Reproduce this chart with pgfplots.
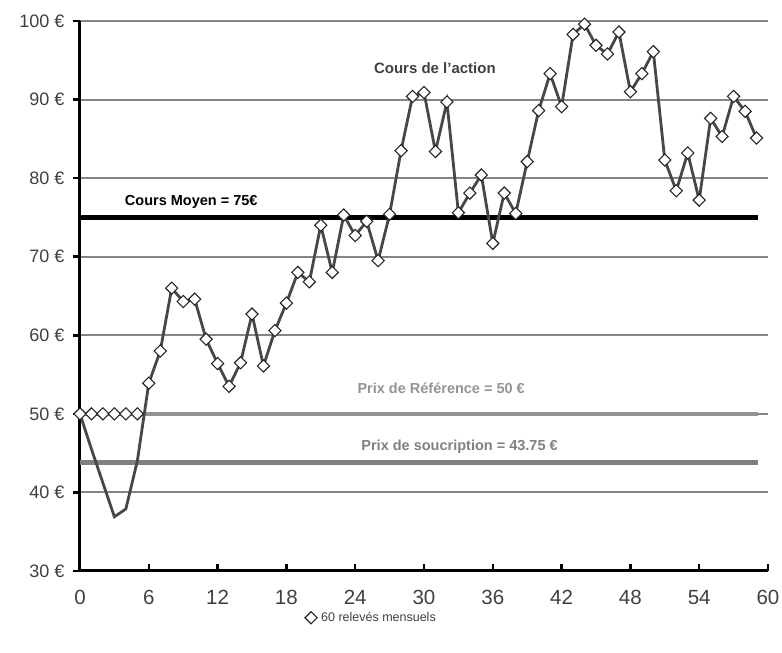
\documentclass[border=0pt]{standalone}
\usepackage{pgfplots}
\pgfplotsset{compat=1.18}
\usepackage{fontspec}
\setmainfont{Liberation Sans}

\definecolor{gridgray}{gray}{0.52}
\definecolor{refgray}{gray}{0.58}
\definecolor{subgray}{gray}{0.50}
\definecolor{linegray}{gray}{0.28}
\definecolor{labgray}{gray}{0.25}

\begin{document}
\begin{tikzpicture}
\path[use as bounding box] (-80pt,-82pt) rectangle (702pt,571pt);
\begin{axis}[
  at={(0pt,0pt)}, anchor=south west,
  scale only axis, width=688pt, height=550pt,
  xmin=0, xmax=60, ymin=30, ymax=100,
  xtick={0,6,...,60}, ytick={30,40,...,100},
  axis x line*=bottom, axis y line*=left,
  axis line style={black, line width=3pt},
  xtick align=inside, ytick align=outside,
  major tick length=7pt,
  tick style={black, line width=2.5pt},
  ymajorgrids, grid style={gridgray, line width=2pt},
  /pgf/number format/assume math mode=true,
  yticklabel={\pgfmathprintnumber{\tick} €},
  xticklabel style={font=\fontsize{20.5}{23}\selectfont, text=labgray, yshift=-16pt},
  yticklabel style={font=\fontsize{18}{21}\selectfont, text=labgray, xshift=-5pt},
  legend style={at={(0.425,-0.085)}, anchor=center, draw=none, fill=none,
    font=\fontsize{12.5}{14}\selectfont, text=labgray,
    nodes={inner xsep=4pt}},
  legend cell align=left,
  clip=false,
]
% lignes de reference
\addplot[forget plot, black, line width=5pt] coordinates {(0,75) (59.1,75)};
\addplot[forget plot, refgray, line width=4.5pt] coordinates {(0,50) (59.1,50)};
\addplot[forget plot, subgray, line width=5pt] coordinates {(0,43.75) (59.1,43.75)};

% cours de l'action
\addplot[forget plot, linegray, line width=2.8pt, no marks] table {
x y
0 50
1 45.5
2 41.2
3 36.9
4 37.9
5 44
6 53.9
7 58.0
8 66.0
9 64.3
10 64.6
11 59.5
12 56.4
13 53.5
14 56.5
15 62.7
16 56.1
17 60.6
18 64.1
19 68.0
20 66.8
21 74.0
22 68.0
23 75.3
24 72.7
25 74.5
26 69.5
27 75.4
28 83.5
29 90.4
30 90.9
31 83.4
32 89.7
33 75.6
34 78.1
35 80.4
36 71.7
37 78.1
38 75.5
39 82.1
40 88.6
41 93.3
42 89.1
43 98.3
44 99.6
45 96.9
46 95.8
47 98.6
48 91.0
49 93.3
50 96.1
51 82.3
52 78.4
53 83.2
54 77.2
55 87.6
56 85.3
57 90.4
58 88.5
59 85.1
};

% releves mensuels
\addplot[only marks, mark=square*, mark size=4.3pt,
  mark options={rotate=45, fill=white, draw=black!85, line width=1.1pt}] table {
x y
0 50
1 50
2 50
3 50
4 50
5 50
6 53.9
7 58.0
8 66.0
9 64.3
10 64.6
11 59.5
12 56.4
13 53.5
14 56.5
15 62.7
16 56.1
17 60.6
18 64.1
19 68.0
20 66.8
21 74.0
22 68.0
23 75.3
24 72.7
25 74.5
26 69.5
27 75.4
28 83.5
29 90.4
30 90.9
31 83.4
32 89.7
33 75.6
34 78.1
35 80.4
36 71.7
37 78.1
38 75.5
39 82.1
40 88.6
41 93.3
42 89.1
43 98.3
44 99.6
45 96.9
46 95.8
47 98.6
48 91.0
49 93.3
50 96.1
51 82.3
52 78.4
53 83.2
54 77.2
55 87.6
56 85.3
57 90.4
58 88.5
59 85.1
};
\addlegendentry{60 relevés mensuels}

\node[font=\bfseries\fontsize{14.5}{16}\selectfont, text=black] at (axis cs:9.7,77.0) {Cours Moyen = 75€};
\node[font=\bfseries\fontsize{15}{16}\selectfont, text=labgray] at (axis cs:30.95,94.0) {Cours de l'action};
\node[font=\bfseries\fontsize{14.5}{16}\selectfont, text=refgray] at (axis cs:31.5,53.2) {Prix de Référence = 50 €};
\node[font=\bfseries\fontsize{14.5}{16}\selectfont, text=subgray] at (axis cs:33.1,45.8) {Prix de soucription = 43.75 €};
\end{axis}
\end{tikzpicture}
\end{document}
